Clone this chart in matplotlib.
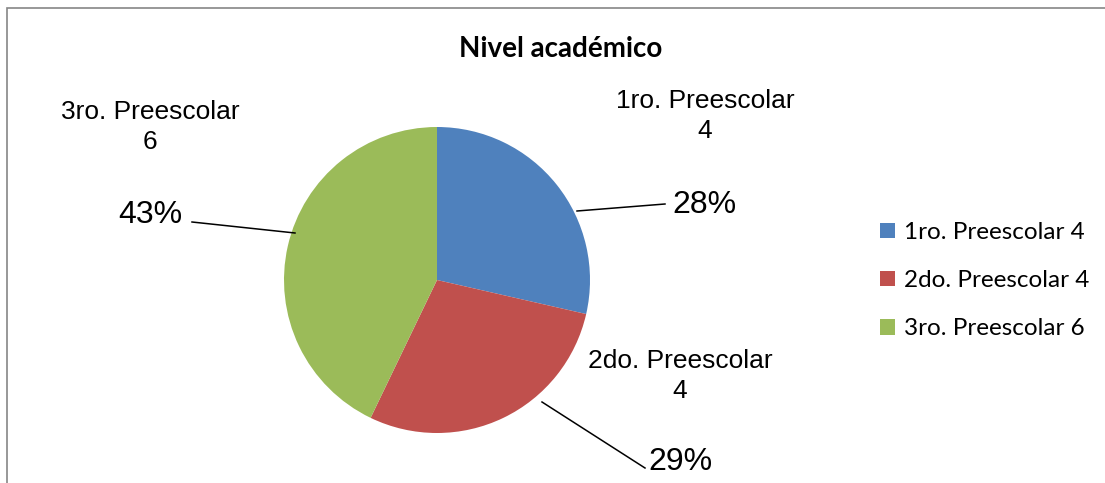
import matplotlib
matplotlib.use("Agg")
import matplotlib.pyplot as plt
from matplotlib.patches import Rectangle

categories = ["1ro. Preescolar", "2do. Preescolar", "3ro. Preescolar"]
values = [4, 4, 6]
pct_labels = ["28%", "29%", "43%"]
colors = ["#4F81BD", "#C0504D", "#9BBB59"]
title = "Nivel académico"

W, H = 1105, 483
fig = plt.figure(figsize=(W / 100, H / 100), dpi=100)
ax = fig.add_axes([0, 0, 1, 1])

def Y(y):
    return H - y

wedges, _ = ax.pie(values, colors=colors, startangle=90, counterclock=False,
                   center=(437, Y(280)), radius=153, frame=True,
                   wedgeprops=dict(linewidth=0))
ax.set_xlim(0, W)
ax.set_ylim(0, H)
ax.set_aspect("equal")
ax.axis("off")

# chart border
ax.add_patch(Rectangle((7, Y(600)), 1200, 600 - 8, fill=False,
                       edgecolor="#868686", linewidth=1.2))

arial = "Liberation Sans"
calibri = "Lato"

ax.text(561, Y(49), title, ha="center", va="center", fontsize=20,
        fontweight="bold", family=calibri)

# category labels (name + value)
cat_pos = [(705, 116), (680, 376), (150, 127)]
pct_pos = [(704, 205), (680, 462), (150, 215)]
leaders = [((577, 211), (665, 204)), ((542, 402), (645, 468)), ((192, 222), (295, 233))]
for cat, v, pct, cp, pp, (a, b) in zip(categories, values, pct_labels, cat_pos, pct_pos, leaders):
    ax.text(cp[0], Y(cp[1]), f"{cat}\n{v}", ha="center", va="center",
            fontsize=19, family=arial, linespacing=1.33)
    ax.text(pp[0], Y(pp[1]), pct, ha="center", va="center",
            fontsize=23, family=arial)
    ax.plot([a[0], b[0]], [Y(a[1]), Y(b[1])], color="black", linewidth=1.1)

leg = ax.legend(wedges, [f"{c} {v}" for c, v in zip(categories, values)],
                loc="upper left", bbox_to_anchor=(880 / W, 1 - 222 / H),
                frameon=False, prop=dict(family=calibri, size=17.5),
                handlelength=0.6, handleheight=0.6, handletextpad=0.4,
                labelspacing=1.12, borderaxespad=0, borderpad=0)

fig.savefig("out.png", dpi=100)
